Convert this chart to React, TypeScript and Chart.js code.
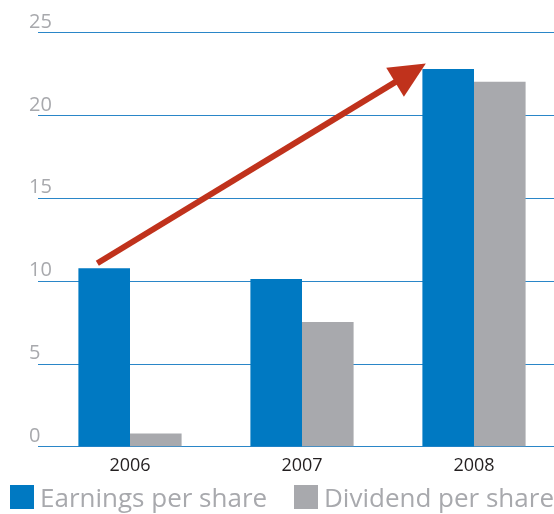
import React, { useEffect, useRef } from "react";
import { Chart, registerables } from "chart.js";

Chart.register(...registerables);

const categories = ["2006", "2007", "2008"];
const earnings = [10.75, 10.1, 22.77];
const dividends = [0.78, 7.5, 22.0];
const yTicks = [0, 5, 10, 15, 20, 25];
const seriesNames = ["Earnings per share", "Dividend per share"];
// arrow annotation in data terms: [categoryIndex, value]
const arrowFrom = [-0.19, 11.05];
const arrowTo = [1.72, 23.1];

const BLUE = "#0079c2";
const GREY = "#a8a9ad";
const RED = "#c0321c";
const GRID = "#2a86c8";
const GRID_LEFT = 38;

const gridPlugin = {
  id: "gridPlugin",
  beforeDatasetsDraw(chart: any) {
    const { ctx, scales } = chart;
    const ys = scales.y;
    ctx.save();
    ctx.strokeStyle = GRID;
    ctx.lineWidth = 1.2;
    yTicks.forEach((v) => {
      const y = Math.round(ys.getPixelForValue(v)) + 0.5;
      ctx.beginPath();
      ctx.moveTo(GRID_LEFT, y);
      ctx.lineTo(chart.width, y);
      ctx.stroke();
    });
    ctx.restore();
  },
};

const arrowPlugin = {
  id: "arrowPlugin",
  afterDatasetsDraw(chart: any) {
    const { ctx, scales } = chart;
    const xs = scales.x;
    const ys = scales.y;
    const step = xs.getPixelForValue(1) - xs.getPixelForValue(0);
    const x1 = xs.getPixelForValue(0) + arrowFrom[0] * step;
    const y1 = ys.getPixelForValue(arrowFrom[1]);
    const x2 = xs.getPixelForValue(0) + arrowTo[0] * step;
    const y2 = ys.getPixelForValue(arrowTo[1]);
    const ang = Math.atan2(y2 - y1, x2 - x1);
    const headLen = 36;
    const headW = 17;
    const bx = x2 - headLen * Math.cos(ang);
    const by = y2 - headLen * Math.sin(ang);
    ctx.save();
    ctx.strokeStyle = RED;
    ctx.fillStyle = RED;
    ctx.lineWidth = 6;
    ctx.beginPath();
    ctx.moveTo(x1, y1);
    ctx.lineTo(bx + 4 * Math.cos(ang), by + 4 * Math.sin(ang));
    ctx.stroke();
    ctx.beginPath();
    ctx.moveTo(x2, y2);
    ctx.lineTo(bx + headW * Math.sin(ang), by - headW * Math.cos(ang));
    ctx.lineTo(bx - headW * Math.sin(ang), by + headW * Math.cos(ang));
    ctx.closePath();
    ctx.fill();
    ctx.restore();
  },
};

export default function App() {
  const ref = useRef<HTMLCanvasElement>(null);
  useEffect(() => {
    if (!ref.current) return;
    const chart = new Chart(ref.current, {
      type: "bar",
      data: {
        labels: categories,
        datasets: [
          { label: seriesNames[0], data: earnings, backgroundColor: BLUE },
          { label: seriesNames[1], data: dividends, backgroundColor: GREY },
        ],
      },
      options: {
        animation: false,
        responsive: false,
        layout: { padding: { left: 44, right: 0, top: 32, bottom: 36 } },
        plugins: {
          tooltip: { enabled: false },
          legend: { display: false },
        },
        datasets: { bar: { categoryPercentage: 0.6, barPercentage: 1 } },
        scales: {
          x: {
            grid: { display: false },
            border: { display: false },
            ticks: {
              color: "#231f20",
              font: { family: "Open Sans", size: 18 },
              padding: 1,
            },
          },
          y: {
            min: 0,
            max: 25,
            afterBuildTicks: (s: any) => {
              s.ticks = yTicks.map((v) => ({ value: v }));
            },
            grid: { display: false, drawTicks: false },
            border: { display: false },
            ticks: {
              mirror: true,
              padding: -5,
              labelOffset: -10,
              color: GREY,
              font: { family: "Open Sans", size: 20 },
            },
          },
        },
      },
      plugins: [gridPlugin, arrowPlugin],
    });
    return () => chart.destroy();
  }, []);
  const item = (color: string, text: string, left: number) => (
    <div style={{ position: "absolute", left, top: 481, display: "flex", alignItems: "center", whiteSpace: "nowrap" }}>
      <div style={{ width: 24, height: 24, background: color, marginRight: 6 }} />
      <span style={{ fontFamily: "Open Sans", fontSize: 26, color: GREY, lineHeight: "32px" }}>{text}</span>
    </div>
  );
  return (
    <div style={{ position: "absolute", left: 0, top: 0, width: 554, height: 514, overflow: "hidden", background: "#fff" }}>
      <canvas ref={ref} width={560} height={514} style={{ display: "block" }} />
      {item(BLUE, seriesNames[0], 10)}
      {item(GREY, seriesNames[1], 294)}
    </div>
  );
}
